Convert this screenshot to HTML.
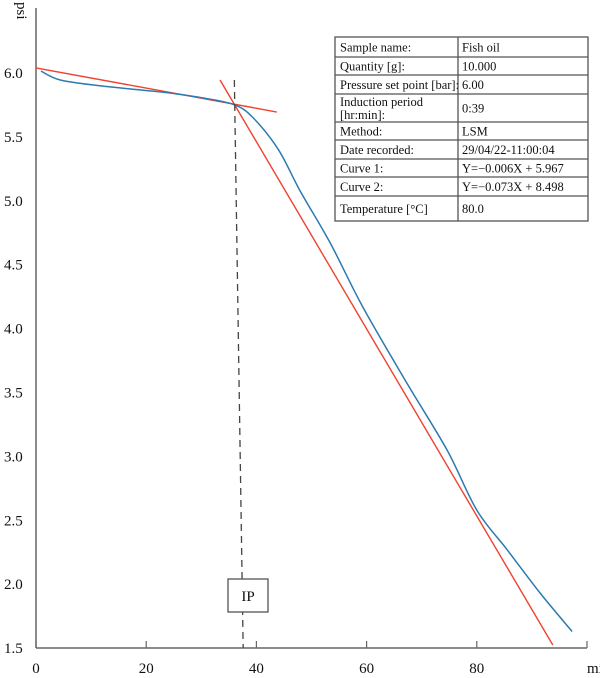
<!DOCTYPE html>
<html><head><meta charset="utf-8"><style>
body{margin:0;background:#fff;}
svg{display:block;font-family:"Liberation Serif",serif;}
</style></head><body>
<svg width="600" height="678" viewBox="0 0 600 678">
<g id="axes"></g>
<g id="marks"></g>
<g id="table"></g>
</svg>
<script>
const xTicks=[0,20,40,60,80];
const yTicks=[1.5,2.0,2.5,3.0,3.5,4.0,4.5,5.0,5.5,6.0];
const blueT=[0.9,4.4,11.6,20.7,25.6,31,36.1,39.4,44,47.9,53.4,59.3,67.3,74.6,80.0,85.5,91.5,97.3];
const blueV=[6.015,5.945,5.90,5.86,5.836,5.80,5.75,5.65,5.40,5.08,4.67,4.17,3.574,3.05,2.58,2.27,1.93,1.63];
const line1=[-0.0079,6.04], line1Range=[0,43.7];
const line2=[-0.0732,8.39], line2Range=[33.4,93.8];
const ipTop=36.0, ipBottom=37.6;
const tableRows=[["Sample name:","Fish oil"],["Quantity [g]:","10.000"],["Pressure set point [bar]:","6.00"],["Induction period|[hr:min]:","0:39"],["Method:","LSM"],["Date recorded:","29/04/22-11:00:04"],["Curve 1:","Y=\u22120.006X + 5.967"],["Curve 2:","Y=\u22120.073X + 8.498"],["Temperature [°C]","80.0"]];
const rowEdges=[37,57,75,94,122,140,159,177,196,221];

const NS="http://www.w3.org/2000/svg";
const X=t=>36+t*5.51, Y=v=>73+(6-v)*127.8;
function mk(p,tag,at){const e=document.createElementNS(NS,tag);for(const k in at)e.setAttribute(k,at[k]);p.appendChild(e);return e;}
const ax=document.getElementById('axes'), mk2=document.getElementById('marks'), tb=document.getElementById('table');

let e=mk(ax,'line',{x1:36,y1:8,x2:36,y2:648,stroke:'#666','stroke-width':1.5});


e=mk(ax,'line',{x1:36,y1:648,x2:587,y2:648,stroke:'#666','stroke-width':1.5});


xTicks.concat([100]).forEach(t=>{const l=mk(ax,'line',{x1:X(t),y1:641,x2:X(t),y2:648,stroke:'#666','stroke-width':1.2});

});
xTicks.forEach(t=>{const s=mk(ax,'text',{x:X(t),y:673,'font-size':15,'text-anchor':'middle',fill:'#111'});s.textContent=t;

});
yTicks.forEach(v=>{const s=mk(ax,'text',{x:4,y:Y(v)+5,'font-size':15,fill:'#111'});s.textContent=v.toFixed(1);

});
e=mk(ax,'text',{x:0,y:0,'font-size':15,fill:'#111',transform:'translate(17,2) rotate(90)'});e.textContent='psi';


e=mk(ax,'text',{x:587,y:673,'font-size':15,fill:'#111'});e.textContent='min';



// red tangent lines
[[line1,line1Range],[line2,line2Range]].forEach(([ln,r],i)=>{const l=mk(mk2,'line',{x1:X(r[0]),y1:Y(ln[0]*r[0]+ln[1]),x2:X(r[1]),y2:Y(ln[0]*r[1]+ln[1]),stroke:'#f0412e','stroke-width':1.4});

});

// blue curve (catmull-rom)
const P=blueT.map((t,i)=>[X(t),Y(blueV[i])]);
let d='M'+P[0][0]+','+P[0][1];
for(let i=0;i<P.length-1;i++){const p0=P[Math.max(0,i-1)],p1=P[i],p2=P[i+1],p3=P[Math.min(P.length-1,i+2)];
d+=' C'+(p1[0]+(p2[0]-p0[0])/6)+','+(p1[1]+(p2[1]-p0[1])/6)+' '+(p2[0]-(p3[0]-p1[0])/6)+','+(p2[1]-(p3[1]-p1[1])/6)+' '+p2[0]+','+p2[1];}
e=mk(mk2,'path',{d:d,fill:'none',stroke:'#2b7bb0','stroke-width':1.5});



// IP dashed line and box
e=mk(mk2,'line',{x1:X(ipTop),y1:80,x2:X(ipBottom),y2:648,stroke:'#444','stroke-width':1.3,'stroke-dasharray':'7,5'});


e=mk(mk2,'rect',{x:228,y:579,width:40,height:33,fill:'#fff',stroke:'#555','stroke-width':1.3});


e=mk(mk2,'text',{x:248,y:601,'font-size':15,'text-anchor':'middle',fill:'#111'});e.textContent='IP';



// table
e=mk(tb,'rect',{x:335,y:37,width:253,height:184,fill:'#fff',stroke:'#555','stroke-width':1.3});


mk(tb,'line',{x1:458,y1:37,x2:458,y2:221,stroke:'#555','stroke-width':1.3});
rowEdges.slice(1,-1).forEach(y=>mk(tb,'line',{x1:335,y1:y,x2:588,y2:y,stroke:'#555','stroke-width':1.3}));
tableRows.forEach((r,i)=>{const y0=rowEdges[i],y1=rowEdges[i+1],mid=(y0+y1)/2;
const parts=r[0].split('|');
parts.forEach((p,j)=>{const s=mk(tb,'text',{x:340,y:mid+4.5+(j-(parts.length-1)/2)*13,'font-size':12.5,fill:'#111'});s.textContent=p;

});
const v=mk(tb,'text',{x:462,y:mid+4.5,'font-size':12.5,fill:'#111'});v.textContent=r[1];

});
</script>
</body></html>
